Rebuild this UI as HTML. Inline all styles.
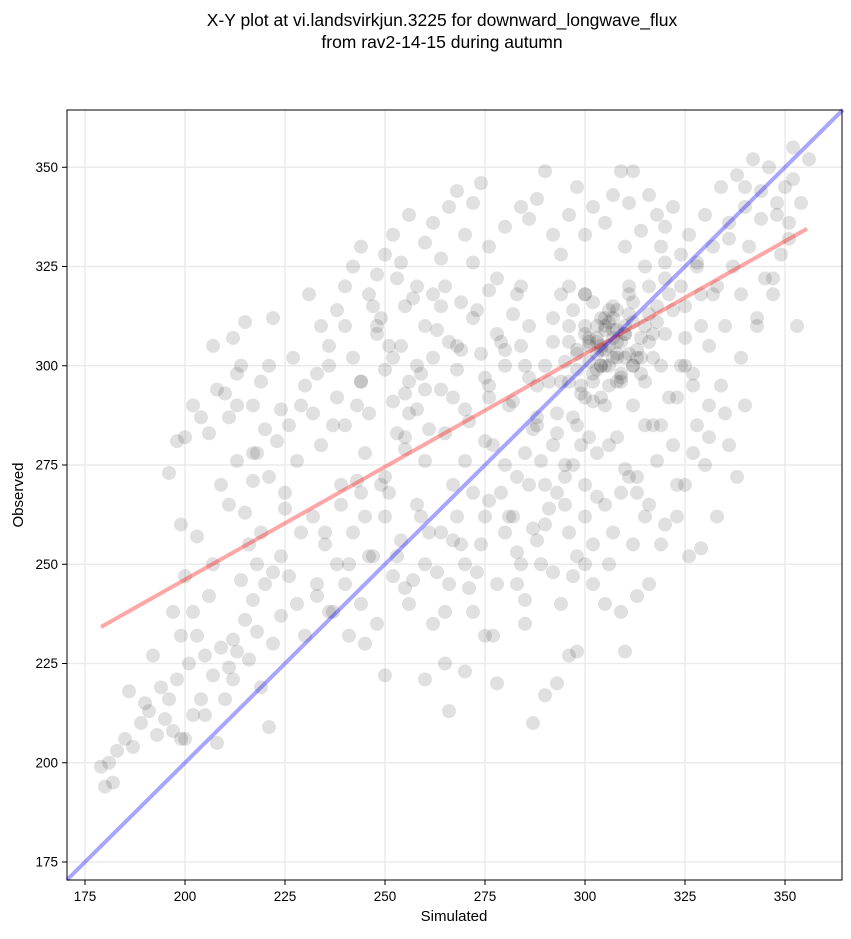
<!DOCTYPE html>
<html><head><meta charset="utf-8"><style>
body{margin:0;background:#fff;}
svg text{font-family:"Liberation Sans","DejaVu Sans",sans-serif;fill:#000;}
</style></head><body>
<svg id="chart" width="851" height="934" viewBox="0 0 851 934" xmlns="http://www.w3.org/2000/svg">
<text x="442" y="26" font-size="17.5" text-anchor="middle">X-Y plot at vi.landsvirkjun.3225 for downward_longwave_flux</text>
<text x="442" y="48" font-size="17.5" text-anchor="middle">from rav2-14-15 during autumn</text>
<g id="grid"></g>
<g id="points"></g>
<g id="lines"></g>
<rect x="67" y="110" width="775" height="770" fill="none" stroke="#000" stroke-width="1"/>
<g id="ticks"></g>
<text x="454" y="921" font-size="15" text-anchor="middle">Simulated</text>
<text x="23" y="495" font-size="15" text-anchor="middle" transform="rotate(-90 23 495)">Observed</text>
</svg>
<script>
const xTicks=[175,200,225,250,275,300,325,350];
const yTicks=[175,200,225,250,275,300,325,350];
const identityLine=[[170.5,170.5],[364.5,364.5]];
const fitLine=[[179,234.2],[355.5,334.5]];
const simX=[179,180,181,183,185,182,187,189,191,193,195,197,199,196,198,200,202,190,186,192,194,199,201,203,205,207,209,211,213,205,208,210,212,215,216,218,219,221,222,224,220,217,214,212,204,206,202,
196,198,200,202,204,206,208,207,210,212,213,215,217,219,220,222,224,211,213,215,217,199,203,207,209,211,214,218,221,223,216,219,225,226,228,230,224,222,218,200,197,
231,234,236,238,240,242,244,246,248,250,252,254,256,258,260,262,264,266,268,270,272,274,276,278,280,282,284,286,288,290,292,294,296,298,300,302,305,307,309,311,
230,232,234,236,238,240,242,244,246,248,250,252,254,256,258,260,262,264,266,268,270,272,274,276,278,280,282,284,286,288,245,250,255,260,265,270,275,280,285,290,240,255,262,269,276,283,247,253,258,243,237,233,227,229,226,228,239,244,
232,235,238,240,242,244,246,248,250,252,254,256,258,260,262,264,266,268,270,272,274,276,278,280,282,284,286,288,290,292,294,296,298,300,245,250,265,270,278,287,290,293,296,298,285,275,283,255,241,236,233,266,260,272,267,
290,292,294,296,298,300,302,304,306,308,310,312,314,316,318,320,322,300,302,305,307,309,311,303,306,304,301,308,297,299,315,317,319,294,293,288,286,312,314,310,307,305,303,
292,295,298,300,303,305,308,310,313,315,318,320,322,325,328,330,333,306,309,312,316,319,323,326,329,302,305,300,295,297,310,338,336,334,331,327,324,340,302,313,316,
320,322,324,326,328,330,332,334,336,338,340,342,344,346,348,350,352,354,356,337,341,345,349,339,343,347,351,353,333,329,325,331,335,318,316,312,310,314,
301,303,305,307,309,311,313,304,306,308,298,300,310,312,296,302,306,315,318,320,
249,251,253,255,257,259,261,263,265,267,269,271,273,275,277,279,281,283,285,287,289,291,293,295,297,299,301,303,305,307,309,311,313,315,317,319,321,323,325,327,
235,239,243,247,251,255,259,263,267,271,275,279,283,287,291,295,299,303,307,311,315,319,323,327,331,335,339,343,347,351,
213,217,221,225,229,233,237,241,245,249,253,257,261,265,269,273,277,281,285,289,293,297,301,305,309,313,317,321,325,329,
244,248,252,256,260,264,268,272,276,280,284,288,292,296,300,304,308,312,316,320,324,328,332,336,340,344,348,352,
304,306,308,310,302,300,298,312,314,306,308,304,316,296,301,311,309,305,303,307];
const obsY=[199,194,200,203,206,195,204,210,213,207,211,208,206,216,221,206,212,215,218,227,219,232,225,232,227,222,229,224,228,212,205,216,231,236,226,233,219,209,230,237,245,241,246,221,216,242,238,
273,281,282,290,287,283,294,305,293,307,298,311,290,296,284,312,289,265,276,263,271,260,257,250,270,287,300,278,272,281,255,258,264,247,240,232,252,248,250,247,238,
318,310,305,314,320,325,330,318,323,328,333,326,338,320,331,336,327,340,344,333,341,346,330,322,335,313,340,337,342,349,333,328,338,345,333,340,336,343,349,341,
295,288,280,300,292,285,302,296,288,308,299,291,305,296,289,310,302,294,306,299,289,312,303,295,308,300,291,305,297,287,278,272,282,276,283,276,281,275,278,270,310,315,318,316,319,318,315,283,300,290,285,298,302,290,285,276,270,268,
262,255,250,245,258,240,252,235,262,247,256,240,265,250,235,258,245,262,250,238,255,266,245,258,262,250,270,256,260,248,240,258,252,262,230,222,225,223,220,210,217,220,227,228,235,232,245,244,232,238,242,213,221,268,270,
300,306,296,310,303,308,298,312,305,309,302,316,307,320,311,322,314,318,291,300,315,296,320,306,311,300,305,303,314,295,325,302,330,318,288,295,310,290,298,310,307,309,303,
280,275,285,270,278,265,282,274,268,285,276,260,280,270,285,275,262,250,238,255,245,255,262,252,254,245,240,250,265,247,228,272,280,295,290,295,300,290,255,242,265,
335,340,328,333,325,338,330,345,336,348,340,352,344,350,338,345,355,341,352,325,330,322,328,318,312,318,332,310,320,318,315,305,310,338,343,349,330,334,
307,310,304,312,306,318,302,300,314,296,304,292,308,300,320,316,280,310,315,326,
312,305,322,293,317,298,284,309,320,292,304,286,314,297,280,306,290,272,300,284,276,296,283,301,287,293,306,299,310,302,297,313,304,296,308,300,318,292,307,298,
258,265,271,252,268,279,262,248,256,244,262,268,253,259,264,272,280,267,258,272,262,285,270,278,282,288,302,310,322,336,
290,278,300,268,258,245,238,250,262,270,252,246,258,238,255,248,232,262,241,250,268,275,282,290,268,272,285,292,300,310,
296,310,302,288,294,315,305,326,292,304,320,285,312,296,318,292,306,300,313,308,320,326,318,332,345,337,341,347,
305,300,302,308,296,310,299,311,302,295,314,304,306,306,301,303,298,312,307,309];
const X0=85,XS=4.0,Y0=862,YS=3.97;
const sx=v=>X0+(v-175)*XS, sy=v=>Y0-(v-175)*YS;
const NS='http://www.w3.org/2000/svg';
const g=document.getElementById('grid'),p=document.getElementById('points'),l=document.getElementById('lines'),t=document.getElementById('ticks');
xTicks.forEach(v=>{
  const ln=document.createElementNS(NS,'line');
  
  
  ln.setAttribute('x1',sx(v));ln.setAttribute('x2',sx(v));ln.setAttribute('y1',110);ln.setAttribute('y2',880);
  ln.setAttribute('stroke','#ebebeb');ln.setAttribute('stroke-width','1.5');g.appendChild(ln);
  const tk=document.createElementNS(NS,'line');
  
  
  tk.setAttribute('x1',sx(v));tk.setAttribute('x2',sx(v));tk.setAttribute('y1',880);tk.setAttribute('y2',885);tk.setAttribute('stroke','#000');t.appendChild(tk);
  const tx=document.createElementNS(NS,'text');
  
  
  tx.setAttribute('x',sx(v));tx.setAttribute('y',901);tx.setAttribute('font-size','13.5');tx.setAttribute('text-anchor','middle');tx.textContent=v;t.appendChild(tx);
});
yTicks.forEach(v=>{
  const ln=document.createElementNS(NS,'line');
  
  
  ln.setAttribute('y1',sy(v));ln.setAttribute('y2',sy(v));ln.setAttribute('x1',67);ln.setAttribute('x2',842);
  ln.setAttribute('stroke','#ebebeb');ln.setAttribute('stroke-width','1.5');g.appendChild(ln);
  const tk=document.createElementNS(NS,'line');
  
  
  tk.setAttribute('y1',sy(v));tk.setAttribute('y2',sy(v));tk.setAttribute('x1',62);tk.setAttribute('x2',67);tk.setAttribute('stroke','#000');t.appendChild(tk);
  const tx=document.createElementNS(NS,'text');
  
  
  tx.setAttribute('x',58);tx.setAttribute('y',sy(v)+4.5);tx.setAttribute('font-size','13.5');tx.setAttribute('text-anchor','end');tx.textContent=v;t.appendChild(tx);
});
for(let i=0;i<Math.min(simX.length,obsY.length);i++){
  const c=document.createElementNS(NS,'circle');
  
  
  c.setAttribute('cx',sx(simX[i]));c.setAttribute('cy',sy(obsY[i]));c.setAttribute('r',7);
  c.setAttribute('fill','#000');c.setAttribute('fill-opacity','0.12');p.appendChild(c);
}
function drawLine(pts,color,name){
  const ln=document.createElementNS(NS,'line');
  
  
  ln.setAttribute('x1',sx(pts[0][0]));ln.setAttribute('y1',sy(pts[0][1]));
  ln.setAttribute('x2',sx(pts[1][0]));ln.setAttribute('y2',sy(pts[1][1]));
  ln.setAttribute('stroke',color);ln.setAttribute('stroke-width','4');ln.setAttribute('stroke-opacity','0.35');
  l.appendChild(ln);
}
drawLine(fitLine,'#ff0000','regression-line');
drawLine(identityLine,'#0000ff','identity-line');
</script>
</body></html>
